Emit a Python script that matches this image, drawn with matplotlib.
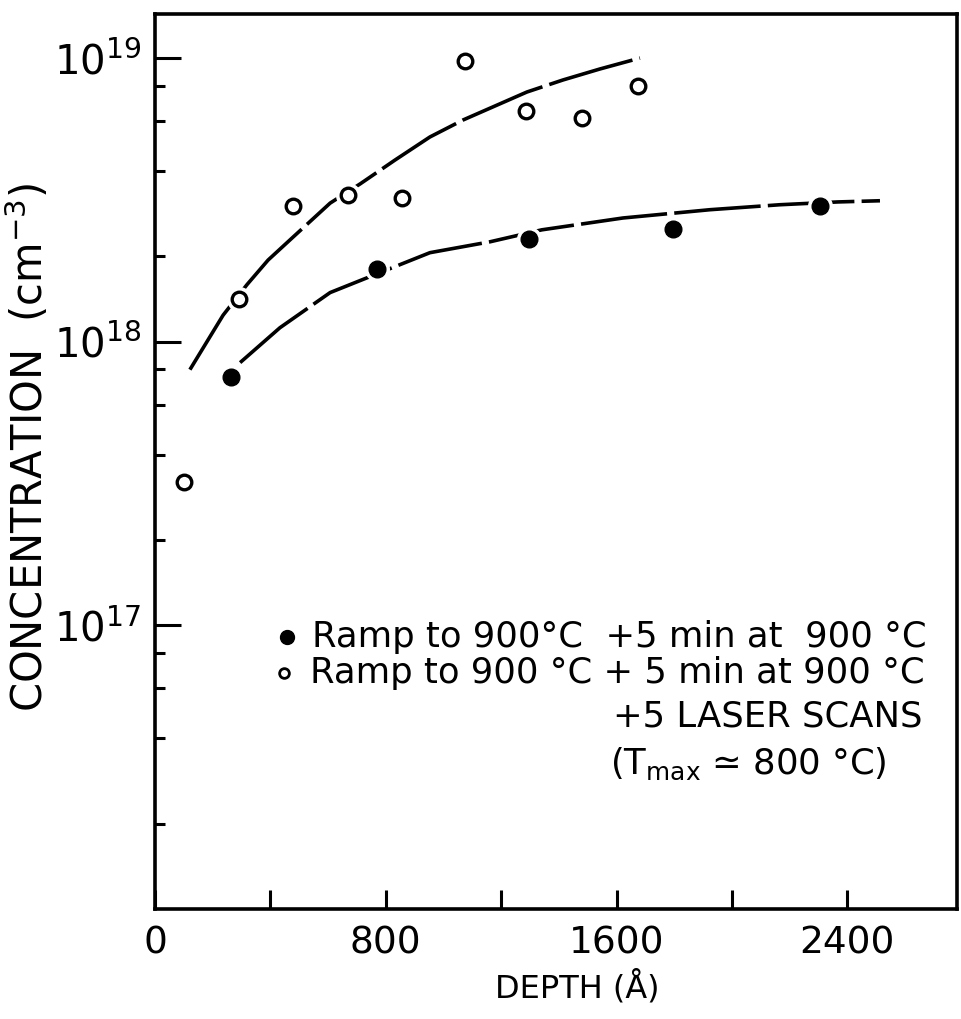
import numpy as np
import matplotlib.pyplot as plt
from matplotlib.ticker import FixedLocator, NullFormatter

plt.rcParams["font.family"] = "DejaVu Sans"

open_depth = [100, 290, 480, 670, 855, 1075, 1285, 1480, 1675]
open_conc = [3.2e17, 1.42e18, 3.0e18, 3.3e18, 3.2e18, 9.8e18, 6.5e18, 6.15e18, 8.0e18]
filled_depth = [265, 770, 1295, 1795, 2305]
filled_conc = [7.5e17, 1.8e18, 2.3e18, 2.5e18, 3.0e18]

# hand drawn guide curves
upper_depth = [121, 236, 319, 392, 475, 607, 711, 832, 953, 1068, 1289, 1414, 1542, 1681]
upper_conc = [7.97e17, 1.24e18, 1.59e18, 1.94e18, 2.32e18, 3.08e18, 3.60e18, 4.37e18,
              5.27e18, 6.05e18, 7.59e18, 8.37e18, 9.15e18, 1.0e19]
lower_depth = [295, 433, 607, 735, 953, 1161, 1341, 1622, 1924, 2166, 2367, 2513]
lower_conc = [8.44e17, 1.12e18, 1.49e18, 1.68e18, 2.06e18, 2.25e18, 2.48e18, 2.73e18,
              2.92e18, 3.04e18, 3.11e18, 3.14e18]

x_major = [0, 800, 1600, 2400]
x_minor = [400, 1200, 2000]
y_major = [1e17, 1e18, 1e19]
y_minor = [m * 10.0**e for e in (16, 17, 18) for m in (2, 4, 6, 8)]

fig = plt.figure(figsize=(9.62, 10.19), dpi=100)
ax = fig.add_axes([155/962, 1 - 909/1019, 802/962, 895/1019])
ax.set_yscale('log')
ax.set_xlim(0, 2780)
ax.set_ylim(1e16, 1.43e19)

dash = (0, (24, 2))
ax.plot(upper_depth, upper_conc, color='black', lw=2.6, ls=dash, zorder=2)
ax.plot(lower_depth, lower_conc, color='black', lw=2.6, ls=dash, zorder=2)

# white halos so the curves break around the points
ax.plot(open_depth, open_conc, 'o', ms=17, color='white', zorder=3)
ax.plot(filled_depth, filled_conc, 'o', ms=17, color='white', zorder=3)
ax.plot(open_depth, open_conc, 'o', ms=10.5, mfc='white', mec='black', mew=2.4, zorder=4)
ax.plot(filled_depth, filled_conc, 'o', ms=12, color='black', zorder=4)

for s in ax.spines.values():
    s.set_linewidth(2.6)

ax.xaxis.set_major_locator(FixedLocator(x_major))
ax.xaxis.set_minor_locator(FixedLocator(x_minor))
ax.xaxis.set_minor_formatter(NullFormatter())
ax.yaxis.set_major_locator(FixedLocator(y_major))
ax.yaxis.set_minor_locator(FixedLocator(y_minor))
ax.yaxis.set_minor_formatter(NullFormatter())
ax.set_yticklabels([r'$\mathregular{10^{%d}}$' % int(np.log10(v)) for v in y_major])

ax.tick_params(axis='x', which='both', direction='in', length=14, width=2.2,
               labelsize=27, pad=12)
ax.tick_params(axis='y', which='major', direction='in', length=19, width=2.2,
               labelsize=29, pad=10)
ax.tick_params(axis='y', which='minor', direction='in', length=7, width=2.2)

ax.set_xlabel('DEPTH (Å)', fontsize=23)
ax.xaxis.set_label_coords(0.527, -0.068)
ax.set_ylabel(r'CONCENTRATION  (cm$^{-3}$)', fontsize=30)
ax.yaxis.set_label_coords(-0.128, 0.516)

# legend drawn as text lines
ax.plot([0.165], [0.304], 'o', ms=10, color='black', transform=ax.transAxes, clip_on=False)
ax.text(0.196, 0.304, 'Ramp to 900°C  +5 min at  900 °C', transform=ax.transAxes,
        fontsize=25.5, va='center', ha='left')
ax.plot([0.161], [0.264], 'o', ms=7, mfc='white', mec='black', mew=2,
        transform=ax.transAxes, clip_on=False)
ax.text(0.193, 0.264, 'Ramp to 900 °C + 5 min at 900 °C', transform=ax.transAxes,
        fontsize=25.5, va='center', ha='left')
ax.text(0.571, 0.215, '+5 LASER SCANS', transform=ax.transAxes,
        fontsize=25.5, va='center', ha='left')
ax.text(0.567, 0.162, r'(T$_{\mathregular{max}}$ ≃ 800 °C)', transform=ax.transAxes,
        fontsize=25.5, va='center', ha='left')

plt.savefig('out.png', dpi=100)
